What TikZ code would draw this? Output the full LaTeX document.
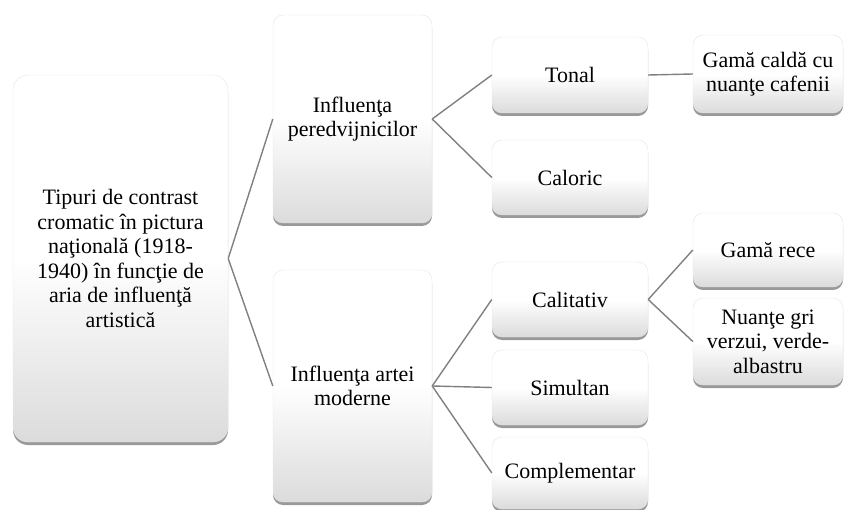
\documentclass[tikz,border=0pt]{standalone}
\usepackage{fontspec}
\setmainfont{Liberation Serif}
\usepackage{xcolor}
\usepackage{tikz}
\usetikzlibrary{shadows}

\tikzset{
  card/.style={rounded corners=10pt, draw=black!10, top color=white, bottom color=black!14, middle color=white,
    drop shadow={shadow xshift=0pt, shadow yshift=-3pt, opacity=0.4, fill=black},
    align=center, inner sep=2pt, font=\fontsize{22}{24.5}\selectfont},
  link/.style={draw=black!50, line width=1.4pt}
}

\begin{document}
\begin{tikzpicture}[x=1pt,y=-1pt]
    \useasboundingbox (0,0) rectangle (845,510);

    % --- level 0
    \node[card, minimum width=215pt, minimum height=367pt, rounded corners=15pt] (root) at (120.5,258.5)
      {Tipuri de contrast\\cromatic în pictura\\naţională (1918-\\1940) în funcţie de\\aria de influenţă\\artistică};

    % --- level 1
    \node[card, minimum width=159pt, minimum height=208pt] (pered) at (352.5,119) {Influenţa\\peredvijnicilor};
    \node[card, minimum width=159pt, minimum height=232pt] (modern) at (352.5,386) {Influenţa artei\\moderne};

    % --- level 2
    \node[card, minimum width=156pt, minimum height=76pt] (tonal)   at (570,75)    {Tonal};
    \node[card, minimum width=156pt, minimum height=75pt] (caloric) at (570,177.5) {Caloric};
    \node[card, minimum width=156pt, minimum height=75pt] (calit)   at (570,299.5) {Calitativ};
    \node[card, minimum width=156pt, minimum height=75pt] (simult)  at (570,387.5) {Simultan};
    \node[card, minimum width=156pt, minimum height=72pt] (compl)   at (570,473)   {Complementar};

    % --- level 3
    \node[card, minimum width=150pt, minimum height=78pt] (calda) at (768,74)    {Gamă caldă cu\\nuanţe cafenii};
    \node[card, minimum width=150pt, minimum height=74pt] (rece)  at (768,250)   {Gamă rece};
    \node[card, minimum width=150pt, minimum height=87pt] (gri)   at (768,341.5) {Nuanţe gri\\verzui, verde-\\albastru};

    % --- links
    \foreach \u/\v in {root/pered,root/modern,pered/tonal,pered/caloric,modern/calit,modern/simult,modern/compl,tonal/calda,calit/rece,calit/gri}{\draw[link] (\u.east) -- (\v.west);}
\end{tikzpicture}
\end{document}
